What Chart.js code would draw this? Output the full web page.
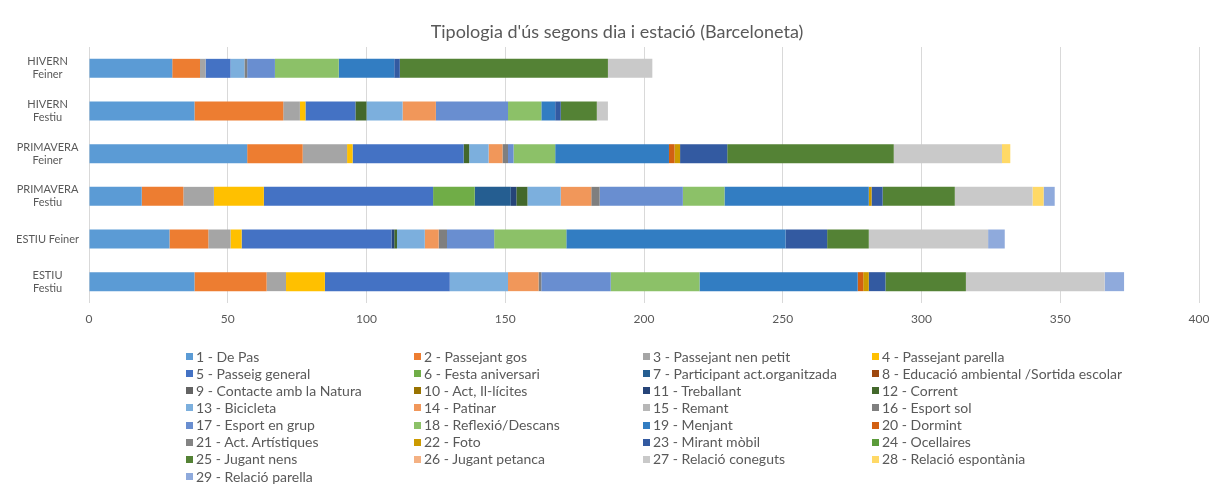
<!DOCTYPE html>
<html>
<head>
<meta charset="utf-8">
<script src="https://cdn.jsdelivr.net/npm/chart.js@4/dist/chart.umd.min.js"></script>
<style>
html,body{margin:0;padding:0;background:#fff;}
#wrap{position:relative;width:1209px;height:486px;overflow:hidden;background:#fff;}
#chart{position:absolute;left:0;top:0;}
#title{position:absolute;left:617px;top:19px;transform:translateX(-50%);white-space:nowrap;font-family:Lato,"Liberation Sans",sans-serif;font-size:18px;line-height:24px;color:#595959;}
#legend{position:absolute;left:0;top:0;width:1209px;height:486px;pointer-events:none;font-family:Lato,"Liberation Sans",sans-serif;font-size:14px;color:#595959;}
.li{position:absolute;white-space:nowrap;height:16px;line-height:16px;}
.sw{position:absolute;left:0;top:4.5px;width:7px;height:7px;}
.tx{position:absolute;left:10px;top:0;}
</style>
</head>
<body>
<div id="wrap">
  <canvas id="chart" width="1209" height="486"></canvas>
  <div id="title"></div>
  <div id="legend"></div>
</div>
<script>
// ---- Data ----
const chartTitle = "Tipologia d'ús segons dia i estació (Barceloneta)";
const categories = [["HIVERN","Feiner"],["HIVERN","Festiu"],["PRIMAVERA","Feiner"],["PRIMAVERA","Festiu"],"ESTIU Feiner",["ESTIU","Festiu"]];
const xTickLabels = [0, 50, 100, 150, 200, 250, 300, 350, 400];
const seriesNames = [
  "1 - De Pas","2 - Passejant gos","3 - Passejant nen petit","4 - Passejant parella",
  "5 - Passeig general","6 - Festa aniversari","7 - Participant act.organitzada","8 - Educació ambiental /Sortida escolar",
  "9 - Contacte amb la Natura","10 - Act, Il-lícites","11 - Treballant","12 - Corrent",
  "13 - Bicicleta","14 - Patinar","15 - Remant","16 - Esport sol",
  "17 - Esport en grup","18 - Reflexió/Descans","19 - Menjant","20 - Dormint",
  "21 - Act. Artístiques","22 - Foto","23 - Mirant mòbil","24 - Ocellaires",
  "25 - Jugant nens","26 - Jugant petanca","27 - Relació coneguts","28 - Relació espontània",
  "29 - Relació parella"
];
// values per category: HIVERN Feiner, HIVERN Festiu, PRIMAVERA Feiner, PRIMAVERA Festiu, ESTIU Feiner, ESTIU Festiu
const s01 = [30, 38, 57, 19, 29, 38];
const s02 = [10, 32, 20, 15, 14, 26];
const s03 = [2, 6, 16, 11, 8, 7];
const s04 = [0, 2, 2, 18, 4, 14];
const s05 = [9, 18, 40, 61, 54, 45];
const s06 = [0, 0, 0, 15, 0, 0];
const s07 = [0, 0, 0, 13, 0, 0];
const s08 = [0, 0, 0, 0, 0, 0];
const s09 = [0, 0, 0, 0, 0, 0];
const s10 = [0, 0, 0, 0, 0, 0];
const s11 = [0, 0, 0, 2, 1, 0];
const s12 = [0, 4, 2, 4, 1, 0];
const s13 = [5, 13, 7, 12, 10, 21];
const s14 = [0, 12, 5, 11, 5, 11];
const s15 = [0, 0, 0, 0, 0, 0];
const s16 = [1, 0, 2, 3, 3, 1];
const s17 = [10, 26, 2, 30, 17, 25];
const s18 = [23, 12, 15, 15, 26, 32];
const s19 = [20, 5, 41, 52, 79, 57];
const s20 = [0, 0, 2, 0, 0, 2];
const s21 = [0, 0, 0, 0, 0, 0];
const s22 = [0, 0, 2, 1, 0, 2];
const s23 = [2, 2, 17, 4, 15, 6];
const s24 = [0, 0, 0, 0, 0, 0];
const s25 = [75, 13, 60, 26, 15, 29];
const s26 = [0, 0, 0, 0, 0, 0];
const s27 = [16, 4, 39, 28, 43, 50];
const s28 = [0, 0, 3, 4, 0, 0];
const s29 = [0, 0, 0, 4, 6, 7];
const seriesValues = [s01,s02,s03,s04,s05,s06,s07,s08,s09,s10,s11,s12,s13,s14,s15,s16,s17,s18,s19,s20,s21,s22,s23,s24,s25,s26,s27,s28,s29];

// ---- Styles ----
const seriesColors = [
  "#5B9BD5","#ED7D31","#A5A5A5","#FFC000","#4472C4","#70AD47","#255E91","#9E480E",
  "#636363","#997300","#264478","#43682B","#7CAFDD","#F1975A","#B7B7B7","#7F7F7F",
  "#698ED0","#8CC168","#327DC2","#D26012","#848484","#CC9A00","#335AA1","#5B9B3A",
  "#548235","#F4B183","#C9C9C9","#FFD966","#8FAADC"
];
const FONT = 'Lato, "Liberation Sans", sans-serif';
const TEXT = '#595959';
Chart.defaults.font.family = FONT;
Chart.defaults.color = TEXT;

document.getElementById('title').textContent = chartTitle;

const datasets = seriesNames.map((name, i) => ({
  label: name,
  data: seriesValues[i],
  backgroundColor: seriesColors[i],
  borderWidth: 0,
  categoryPercentage: 0.445,
  barPercentage: 1.0
}));

new Chart(document.getElementById('chart'), {
  type: 'bar',
  data: { labels: categories, datasets },
  options: {
    indexAxis: 'y',
    responsive: false,
    animation: false,
    devicePixelRatio: 1,
    layout: { autoPadding: false, padding: { left: 0, right: 10, top: 47, bottom: 153 } },
    plugins: {
      legend: { display: false },
      tooltip: { enabled: false },
      title: { display: false }
    },
    scales: {
      x: {
        stacked: true,
        min: 0, max: 400,
        afterBuildTicks(scale) { scale.ticks = xTickLabels.map(v => ({ value: v })); },
        afterFit(scale) { scale.height = 30; scale.paddingLeft = 0; scale.paddingRight = 0; },
        ticks: { color: TEXT, font: { size: 12 }, padding: 9, maxRotation: 0 },
        grid: { color: '#D9D9D9', lineWidth: 1, drawTicks: false },
        border: { display: false }
      },
      y: {
        stacked: true,
        afterFit(scale) { scale.width = 89; scale.paddingTop = 0; scale.paddingBottom = 0; },
        ticks: { color: TEXT, font: { size: 11 }, padding: 10, crossAlign: 'center' },
        grid: { display: false, drawTicks: false },
        border: { display: false }
      }
    }
  }
});

// ---- HTML legend (4 columns) ----
const legend = document.getElementById('legend');
const colX = [186, 414, 643, 872];
seriesNames.forEach((name, i) => {
  const col = i % 4, row = Math.floor(i / 4);
  const d = document.createElement('div');
  d.className = 'li';
  d.style.left = colX[col] + 'px';
  d.style.top = (348.5 + row * 17.15) + 'px';
  const sw = document.createElement('span');
  sw.className = 'sw';
  sw.style.background = seriesColors[i];
  const tx = document.createElement('span');
  tx.className = 'tx';
  tx.textContent = name;
  d.appendChild(sw); d.appendChild(tx);
  legend.appendChild(d);
});
</script>
</body>
</html>
